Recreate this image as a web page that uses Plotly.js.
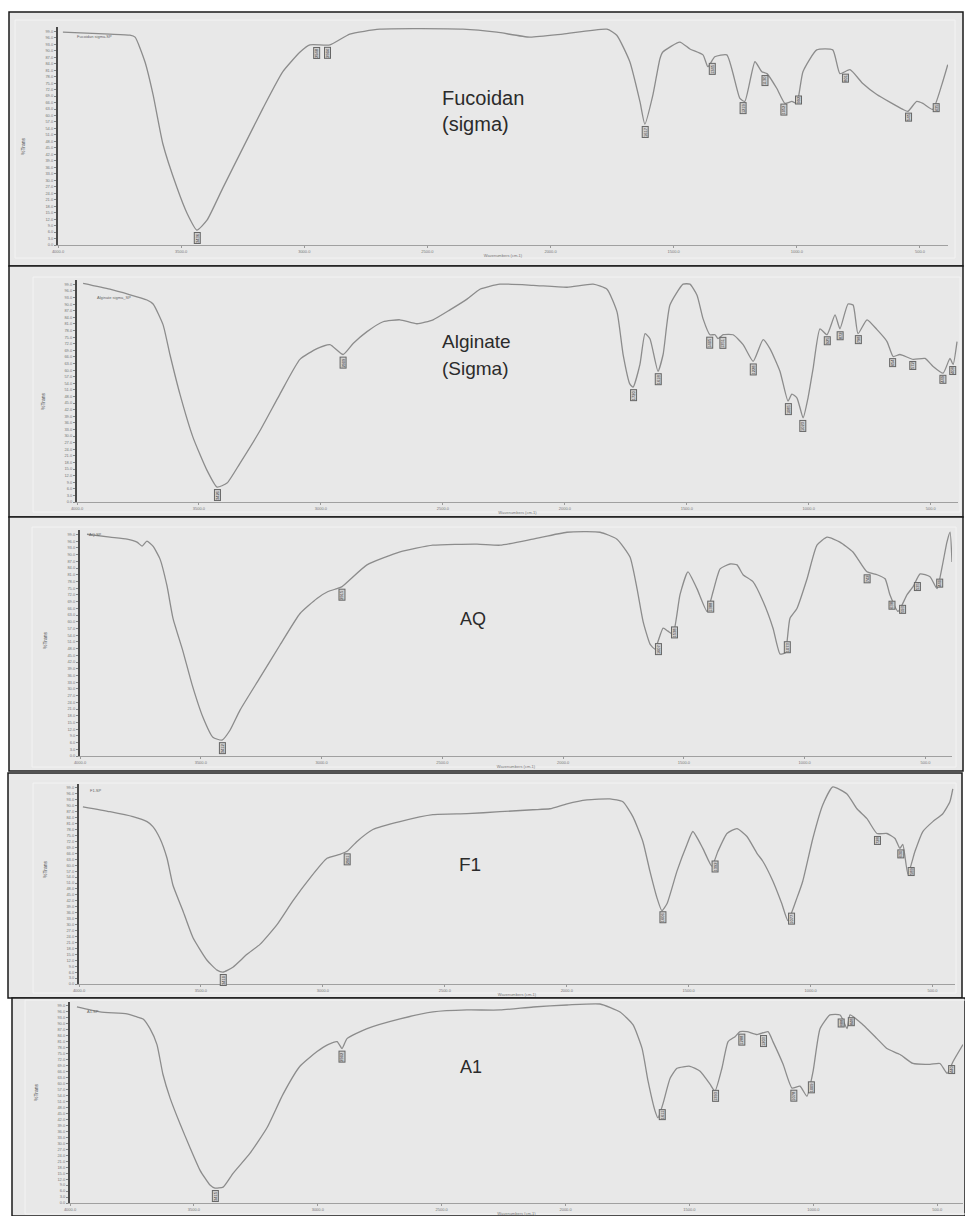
<!DOCTYPE html>
<html>
<head>
<meta charset="utf-8">
<script src="https://cdn.plot.ly/plotly-3.0.1.min.js"></script>
<style>html,body{margin:0;padding:0;background:#fff;}#chart{width:965px;height:1216px;}</style>
</head>
<body>
<div id="chart"></div>
<script>
// ---------- DATA ----------
const sampleNames = ["Fucoidan (sigma)", "Alginate (Sigma)", "AQ", "F1", "A1"];
const fileNames = ["Fucoidan sigma.SP", "Alginate sigma_SP", "AQ.SP", "F1.SP", "A1.SP"];
const xTickVals = [4000, 3500, 3000, 2500, 2000, 1500, 1000, 500];
const xTitle = "Wavenumbers (cm-1)";
const yTitle = "%Trans";

const wnFucoidan = [3980,3789,3708,3687,3647,3614,3574,3517,3476,3436,3395,3330,3249,3168,3087,3017,2977,2896,2815,2693,2356,2218,2084,1950,1771,1731,1678,1637,1617,1584,1556,1544,1475,1434,1381,1361,1333,1284,1231,1211,1170,1142,1121,1081,1048,1020,1000,975,919,854,825,784,732,675,569,549,513,488,448,411,387];
const tFucoidan  = [98.6,97.7,97.2,96.3,84.9,69.7,46.8,26.6,14.7,6.9,11.5,26.6,45.0,63.3,80.3,89.4,92.7,92.7,97.7,100,100,98.6,96.3,97.7,100,97.2,84.9,66.5,56.0,69.7,86.2,89.4,94.0,90.8,88.1,82.6,87.2,88.1,67.9,66.5,84.9,80.3,79.4,72.5,65.6,66.5,65.6,80.3,90.4,90.4,79.4,81.2,74.8,69.7,62.8,61.9,66.5,65.6,62.8,74.3,83.5];
const peaksFucoidan = [3436,2948,2904,1617,1345,1219,1130,1052,992,801,545,435];

const wnAlginate = [3975,3865,3713,3688,3647,3619,3578,3524,3467,3426,3385,3332,3250,3168,3086,3016,2963,2909,2868,2811,2745,2676,2606,2540,2471,2401,2348,2266,2130,1991,1884,1827,1786,1761,1733,1720,1692,1671,1651,1618,1597,1569,1515,1487,1458,1433,1405,1384,1372,1351,1310,1269,1228,1187,1159,1118,1085,1069,1048,1023,1003,982,954,925,892,872,839,818,798,761,720,679,654,626,572,523,490,449,421,408,392];
const tAlginate  = [99.5,96.8,91.9,90.1,80.6,67.1,49.1,29.3,14.4,6.8,8.6,17.6,32.4,49.1,64.9,69.8,71.6,67.1,72.1,77.5,82.0,82.9,81.1,82.9,87.4,92.3,96.8,99.1,98.6,97.7,99.1,96.8,86.5,67.1,53.6,52.3,62.6,76.6,74.3,59.5,67.1,89.6,99.1,99.1,94.1,83.3,76.1,76.1,74.3,76.1,76.1,71.6,64.0,73.9,69.8,59.5,45.9,49.1,47.3,38.3,47.3,60.8,78.8,76.1,85.1,78.8,90.1,89.6,76.6,82.9,78.4,73.0,66.2,67.1,64.9,65.3,61.7,58.6,65.3,62.6,73.0];
const peaksAlginate = [3426,2909,1720,1618,1405,1351,1228,1085,1023,925,872,798,654,572,449,408];

const wnAQ = [3971,3876,3805,3764,3743,3723,3698,3669,3640,3615,3574,3536,3491,3450,3412,3379,3338,3255,3172,3089,3019,2973,2936,2915,2812,2675,2539,2356,2261,2125,1984,1847,1777,1723,1694,1669,1640,1620,1586,1566,1545,1516,1483,1446,1404,1379,1350,1309,1280,1255,1214,1172,1131,1102,1081,1061,1032,990,949,907,854,800,742,700,667,647,613,576,551,522,481,452,431,411,398,390];
const tAQ  = [99.1,97.8,96.9,95.6,93.8,96.0,93.8,88.1,76.1,61.5,46.9,31.9,17.3,8.4,7.1,11.5,20.4,35.0,49.6,63.7,70.4,73.5,74.8,75.7,85.4,91.2,94.2,94.7,94.2,96.9,100,100,96.9,88.9,74.8,60.2,50.0,47.8,57.1,55.8,54.4,72.1,82.3,74.8,64.6,73.5,83.6,85.8,85.4,81.0,77.9,69.0,57.1,45.6,46.0,61.5,65.9,79.2,94.2,97.8,95.6,91.2,82.3,81.0,79.2,72.1,64.6,72.1,75.7,81.4,80.1,74.8,84.5,95.6,100,86.7];
const peaksAQ = [3412,2915,1607,1538,1388,1073,742,638,593,535,440];

const wnF1 = [3984,3873,3779,3721,3697,3668,3639,3615,3574,3533,3475,3434,3410,3369,3311,3258,3188,3123,3053,2983,2930,2901,2860,2795,2684,2549,2409,2274,2139,2069,1999,1917,1823,1770,1729,1688,1659,1630,1610,1589,1548,1507,1483,1442,1405,1380,1343,1302,1261,1220,1196,1155,1118,1093,1056,1032,991,950,909,851,810,769,728,687,654,634,622,601,572,540,499,458,429,417];
const tF1  = [89.5,87.0,84.5,82.0,79.5,73.5,63.5,50.0,37.0,23.5,12.0,7.0,6.0,8.5,15.0,20.0,30.0,42.0,53.5,63.5,65.5,67.0,72.0,78.0,82.0,85.5,86.0,87.0,88.0,88.5,91.0,93.0,93.5,92.0,84.5,72.0,57.0,43.5,37.0,40.5,57.0,70.5,77.0,68.5,59.5,67.0,76.0,78.5,74.5,66.0,62.0,52.0,40.5,32.0,43.5,52.0,73.5,90.5,99.5,96.0,88.5,83.5,76.0,76.0,73.5,68.5,70.5,55.5,67.0,77.0,82.0,86.0,92.0,98.5];
const peaksF1 = [3410,2901,1606,1392,1077,728,630,589];

const wnA1 = [3972,3879,3770,3730,3705,3677,3649,3625,3596,3556,3516,3475,3435,3415,3382,3342,3274,3205,3140,3072,3003,2959,2922,2902,2882,2801,2668,2535,2398,2264,2131,1994,1861,1780,1728,1691,1667,1639,1627,1607,1578,1550,1498,1457,1417,1397,1369,1344,1316,1296,1268,1227,1183,1163,1122,1086,1054,1026,1001,973,933,892,864,852,800,743,703,650,598,529,489,460,436,396];
const tA1  = [98.5,96.0,95.0,93.5,92.5,87.6,79.6,64.7,52.7,39.8,27.9,16.4,9.0,7.5,8.0,14.9,24.9,37.8,54.7,68.7,76.1,79.6,81.1,77.6,82.6,87.6,92.5,96.0,97.0,97.0,98.5,99.5,100,96.0,89.6,77.6,61.2,46.3,42.8,49.8,62.7,67.7,68.7,66.2,59.7,56.2,67.7,81.1,83.6,86.1,86.1,84.6,86.1,81.1,69.7,57.7,58.7,53.7,66.2,87.6,94.5,94.5,87.6,94.5,89.6,82.6,77.6,74.6,70.1,69.7,70.1,65.2,71.1,79.6];
const peaksA1 = [3415,2902,1611,1393,1288,1203,1078,1009,888,848,440];

// ---------- LAYOUT (pixel geometry) ----------
const W = 965, H = 1216;
const px = p => p / W;
const py = p => 1 - p / H;

const spectra = [
  {wn: wnFucoidan, t: tFucoidan, peaks: peaksFucoidan},
  {wn: wnAlginate, t: tAlginate, peaks: peaksAlginate},
  {wn: wnAQ, t: tAQ, peaks: peaksAQ},
  {wn: wnF1, t: tF1, peaks: peaksF1},
  {wn: wnA1, t: tA1, peaks: peaksA1}
];

const geom = [
  {xd:[58,948], xr:[4000,386], yd:[27,245], box:[9,12,963,266], inner:[15,20,955,258], ytl:[18,135], file:[75,37],
   label:[[440,98,"Fucoidan"],[440,124,"(sigma)"]], lsize:20},
  {xd:[77,958], xr:[4000,388], yd:[280,502], box:[9,266,963,517], inner:[33,277,960,512], ytl:[38,390], file:[95,298],
   label:[[440,341,"Alginate"],[440,369,"(Sigma)"]], lsize:19},
  {xd:[80,952], xr:[4000,390], yd:[530,756], box:[9,517,963,771], inner:[32,527,956,767], ytl:[40,640], file:[87,534],
   label:[[458,619,"AQ"]], lsize:18},
  {xd:[79,955], xr:[4000,408], yd:[784,984], box:[8,773,962,998], inner:[33,783,956,993], ytl:[40,880], file:[88,791],
   label:[[457,864,"F1"]], lsize:19},
  {xd:[70,963], xr:[4000,396], yd:[1002,1203], box:[12,998,975,1230], inner:[25,1000,966,1214], ytl:[31,1103], file:[85,1011],
   label:[[458,1067,"A1"]], lsize:18}
];

function interp(xs, ys, x) {
  for (let i = 0; i < xs.length - 1; i++) {
    const a = xs[i], b = xs[i+1];
    if ((x <= a && x >= b) || (x >= a && x <= b)) {
      const f = (x - a) / (b - a);
      return ys[i] + f * (ys[i+1] - ys[i]);
    }
  }
  return ys[ys.length - 1];
}

const data = [];
const layout = {
  width: W, height: H,
  margin: {l:0, r:0, t:0, b:0},
  paper_bgcolor: "#ffffff",
  plot_bgcolor: "rgba(0,0,0,0)",
  showlegend: false,
  font: {family: "Liberation Sans, Arial, sans-serif", color: "#666"},
  shapes: [], annotations: []
};

spectra.forEach((s, i) => {
  const g = geom[i];
  const n = i + 1;
  const xa = "xaxis" + (n === 1 ? "" : n);
  const ya = "yaxis" + (n === 1 ? "" : n);
  const xr = "x" + (n === 1 ? "" : n);
  const yr = "y" + (n === 1 ? "" : n);

  data.push({
    type: "scatter", mode: "lines",
    x: s.wn, y: s.t, xaxis: xr, yaxis: yr,
    line: {color: "#8c8c8c", width: 1.3, shape: "spline", smoothing: 0.5},
    hoverinfo: "x+y"
  });

  layout[xa] = {
    domain: [px(g.xd[0]), px(g.xd[1])], range: g.xr, anchor: yr,
    showline: true, linecolor: "#a0a0a0", linewidth: 1, mirror: false,
    showgrid: false, zeroline: false,
    ticks: "outside", ticklen: 2, tickcolor: "#999",
    tickvals: xTickVals, ticktext: xTickVals.map(v => v.toFixed(1)),
    tickfont: {size: 4, color: "#777"},
    title: {text: xTitle, font: {size: 4, color: "#777"}, standoff: 1}
  };
  layout[ya] = {
    domain: [py(g.yd[1]), py(g.yd[0])], range: [0, 101], anchor: xr,
    showline: true, linecolor: "#4a4a4a", linewidth: 2,
    showgrid: false, zeroline: false,
    ticks: "outside", ticklen: 2, tickcolor: "#888", dtick: 3,
    tickformat: ".1f", tickfont: {size: 4, color: "#777"}
  };

  const b = g.box;
  layout.shapes.push({type:"rect", xref:"paper", yref:"paper", layer:"below",
    x0: px(b[0]), x1: px(Math.min(b[2], W)), y0: py(Math.min(b[3], H)), y1: py(b[1]),
    fillcolor: "#e8e8e8", line: {color: "#1a1a1a", width: 1.5}});
  const r = g.inner;
  layout.shapes.push({type:"rect", xref:"paper", yref:"paper", layer:"below",
    x0: px(r[0]), x1: px(r[2]), y0: py(r[3]), y1: py(r[1]),
    fillcolor: "rgba(0,0,0,0)", line: {color: "#f3f3f3", width: 1}});

  layout.annotations.push({xref:"paper", yref:"paper", x: px(g.ytl[0]), y: py(g.ytl[1]),
    text: yTitle, textangle: -90, showarrow: false, font: {size: 5, color: "#555"}});
  layout.annotations.push({xref:"paper", yref:"paper", x: px(g.file[0]), y: py(g.file[1]),
    xanchor: "left", yanchor: "middle", text: fileNames[i], showarrow: false, font: {size: 4, color: "#666"}});
  g.label.forEach(l => {
    layout.annotations.push({xref:"paper", yref:"paper", x: px(l[0]), y: py(l[1]),
      xanchor: "left", yanchor: "middle", text: l[2], showarrow: false,
      font: {size: g.lsize, color: "#2b2b2b", family: "Liberation Sans, Arial, sans-serif"}});
  });
  s.peaks.forEach(p => {
    layout.annotations.push({xref: xr, yref: yr, x: p, y: interp(s.wn, s.t, p),
      text: String(p), textangle: -90, showarrow: false, yanchor: "top", yshift: -2,
      font: {size: 4, color: "#333"}, bgcolor: "#cfcfcf", bordercolor: "#666", borderwidth: 1, borderpad: 0});
  });
});

Plotly.newPlot("chart", data, layout, {staticPlot: true, displayModeBar: false});
</script>
</body>
</html>
